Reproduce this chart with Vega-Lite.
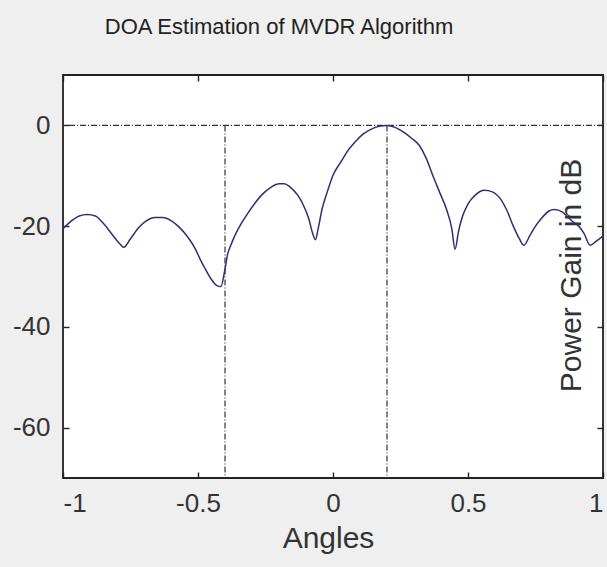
{
  "$schema": "https://vega.github.io/schema/vega-lite/v6.json",
  "width": 540,
  "height": 403,
  "autosize": {"type": "none"},
  "padding": {"left": 63, "top": 75, "right": 4, "bottom": 89},
  "background": "#efefef",
  "title": {
    "text": "DOA Estimation of MVDR Algorithm",
    "font": "Liberation Sans",
    "fontSize": 22,
    "fontWeight": "normal",
    "color": "#222222",
    "anchor": "middle",
    "dx": -54,
    "baseline": "alphabetic",
    "offset": 18
  },
  "config": {
    "view": {"fill": "white", "stroke": "#222222", "strokeWidth": 1.8},
    "axis": {
      "grid": false,
      "domain": false,
      "labelFont": "Liberation Sans",
      "titleFont": "Liberation Sans",
      "labelColor": "#333333",
      "titleColor": "#333333",
      "labelFontSize": 26,
      "titleFontSize": 30,
      "titleFontWeight": "normal",
      "tickColor": "#222222",
      "tickSize": -6,
      "tickWidth": 1.4
    }
  },
  "datasets": {
    "curve": [
      {"angle": -1.0, "gain": -20.5},
      {"angle": -0.97, "gain": -19.0},
      {"angle": -0.94, "gain": -18.0},
      {"angle": -0.91, "gain": -17.7},
      {"angle": -0.88, "gain": -18.0},
      {"angle": -0.85, "gain": -19.5},
      {"angle": -0.82, "gain": -21.5},
      {"angle": -0.79, "gain": -23.5},
      {"angle": -0.775, "gain": -24.2},
      {"angle": -0.75, "gain": -22.5},
      {"angle": -0.72, "gain": -20.3},
      {"angle": -0.69, "gain": -18.9},
      {"angle": -0.66, "gain": -18.3},
      {"angle": -0.63, "gain": -18.3},
      {"angle": -0.6, "gain": -18.9},
      {"angle": -0.57, "gain": -20.2},
      {"angle": -0.54, "gain": -22.0},
      {"angle": -0.51, "gain": -24.5},
      {"angle": -0.49, "gain": -26.8},
      {"angle": -0.47, "gain": -28.8},
      {"angle": -0.45, "gain": -30.6},
      {"angle": -0.43, "gain": -31.8},
      {"angle": -0.415, "gain": -32.0},
      {"angle": -0.4, "gain": -28.5},
      {"angle": -0.39, "gain": -25.5},
      {"angle": -0.38, "gain": -24.0},
      {"angle": -0.36, "gain": -21.5},
      {"angle": -0.34, "gain": -19.5},
      {"angle": -0.32, "gain": -17.8},
      {"angle": -0.29, "gain": -15.5},
      {"angle": -0.26, "gain": -13.6},
      {"angle": -0.23, "gain": -12.3},
      {"angle": -0.2, "gain": -11.6},
      {"angle": -0.18, "gain": -11.6},
      {"angle": -0.16, "gain": -12.2},
      {"angle": -0.13, "gain": -13.9},
      {"angle": -0.11, "gain": -15.8},
      {"angle": -0.09, "gain": -18.5},
      {"angle": -0.075, "gain": -21.5},
      {"angle": -0.065, "gain": -22.7},
      {"angle": -0.055, "gain": -20.5},
      {"angle": -0.04, "gain": -16.5},
      {"angle": -0.02, "gain": -13.0},
      {"angle": 0.0, "gain": -9.9},
      {"angle": 0.03, "gain": -7.2},
      {"angle": 0.05, "gain": -5.4},
      {"angle": 0.08, "gain": -3.4},
      {"angle": 0.11, "gain": -1.8},
      {"angle": 0.14, "gain": -0.8},
      {"angle": 0.17, "gain": -0.2},
      {"angle": 0.2, "gain": 0.0},
      {"angle": 0.23, "gain": -0.4},
      {"angle": 0.26, "gain": -1.3},
      {"angle": 0.29, "gain": -2.5},
      {"angle": 0.32, "gain": -4.0},
      {"angle": 0.345, "gain": -6.5},
      {"angle": 0.37, "gain": -10.0},
      {"angle": 0.395, "gain": -13.3},
      {"angle": 0.42, "gain": -16.6},
      {"angle": 0.44, "gain": -20.5},
      {"angle": 0.452, "gain": -24.6},
      {"angle": 0.465, "gain": -21.0},
      {"angle": 0.48, "gain": -18.0},
      {"angle": 0.5, "gain": -15.6},
      {"angle": 0.53, "gain": -13.7},
      {"angle": 0.56, "gain": -12.9},
      {"angle": 0.59, "gain": -13.2},
      {"angle": 0.62, "gain": -14.6},
      {"angle": 0.645, "gain": -17.0},
      {"angle": 0.667, "gain": -19.9},
      {"angle": 0.69, "gain": -22.5},
      {"angle": 0.707, "gain": -23.8},
      {"angle": 0.73, "gain": -21.8},
      {"angle": 0.75, "gain": -20.0},
      {"angle": 0.77, "gain": -18.6},
      {"angle": 0.8, "gain": -17.0},
      {"angle": 0.82, "gain": -16.7},
      {"angle": 0.85, "gain": -17.2},
      {"angle": 0.875, "gain": -18.5},
      {"angle": 0.89, "gain": -19.2},
      {"angle": 0.91, "gain": -20.0},
      {"angle": 0.93, "gain": -21.5},
      {"angle": 0.952, "gain": -23.8},
      {"angle": 0.975, "gain": -23.0},
      {"angle": 1.0, "gain": -22.0}
    ],
    "vlines": [
      {"angle": -0.4, "top": 0, "bottom": -70},
      {"angle": 0.2, "top": 0, "bottom": -70}
    ],
    "hline": [
      {"gain": 0}
    ]
  },
  "layer": [
    {
      "data": {"name": "hline"},
      "mark": {"type": "rule", "color": "#3a3030", "strokeWidth": 1.2, "strokeDash": [6, 2, 1, 2]},
      "encoding": {
        "y": {"field": "gain", "type": "quantitative", "scale": {"domain": [-70, 10], "nice": false}, "axis": null}
      }
    },
    {
      "data": {"name": "vlines"},
      "mark": {"type": "rule", "color": "#3a3030", "strokeWidth": 1.2, "strokeDash": [6, 2, 1, 2]},
      "encoding": {
        "x": {"field": "angle", "type": "quantitative", "scale": {"domain": [-1, 1], "nice": false},
          "axis": {"orient": "top", "values": [-1, -0.5, 0, 0.5, 1], "labels": false, "title": null}},
        "y": {"field": "top", "type": "quantitative", "scale": {"domain": [-70, 10], "nice": false},
          "axis": {"orient": "right", "values": [-60, -40, -20, 0], "labels": false, "title": null}},
        "y2": {"field": "bottom"}
      }
    },
    {
      "data": {"name": "curve"},
      "mark": {"type": "line", "color": "#2e2e78", "strokeWidth": 1.5, "interpolate": "monotone"},
      "encoding": {
        "x": {"field": "angle", "type": "quantitative", "scale": {"domain": [-1, 1], "nice": false},
          "axis": {"orient": "bottom", "values": [-1, -0.5, 0, 0.5, 1], "labelExpr": "datum.value + ''",
            "labelPadding": 18, "title": "Angles", "titleX": 265, "titleY": 69, "titleBaseline": "alphabetic", "titleAlign": "center"}},
        "y": {"field": "gain", "type": "quantitative", "scale": {"domain": [-70, 10], "nice": false},
          "axis": {"orient": "left", "values": [-60, -40, -20, 0], "labelExpr": "datum.value + ''",
            "labelPadding": 19, "title": "Power Gain in dB", "titleX": 517, "titleY": 200,
            "titleAngle": 270, "titleAlign": "center", "titleBaseline": "alphabetic"}}
      }
    }
  ],
  "resolve": {"axis": {"x": "independent", "y": "independent"}}
}
